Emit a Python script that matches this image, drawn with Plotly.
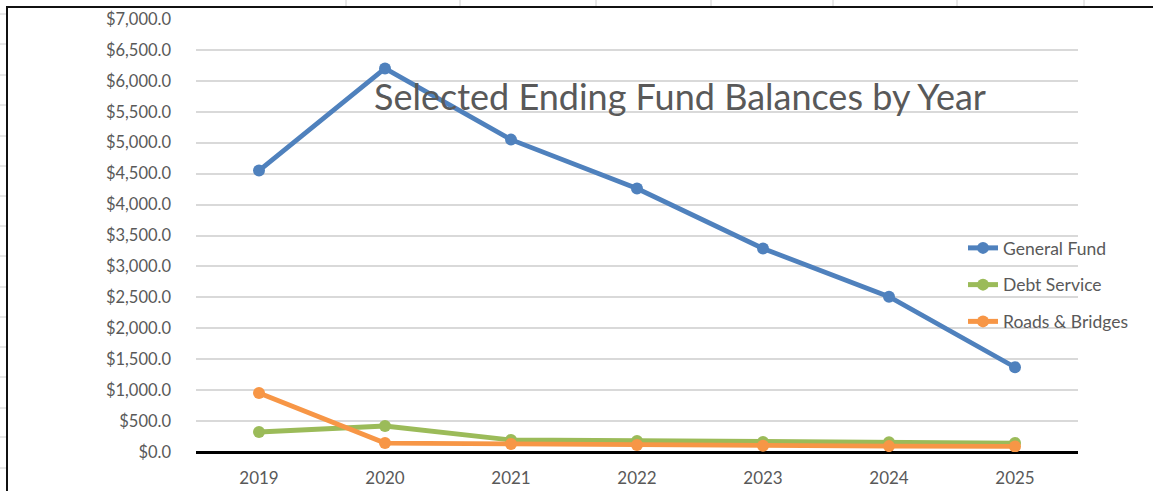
import plotly.graph_objects as go

years = ["2019", "2020", "2021", "2022", "2023", "2024", "2025"]
general_fund = [4550, 6200, 5050, 4260, 3290, 2510, 1370]
debt_service = [323, 420, 194, 178, 162, 158, 145]
roads_bridges = [954, 145, 130, 115, 100, 95, 90]

W, H = 1153, 491
FONT = "Lato"
GREY = "#595959"

def px_x(x):
    return x / W

def px_y(y):
    return (H - y) / H

fig = go.Figure()
series = [
    ("General Fund", general_fund, "#4F81BD"),
    ("Debt Service", debt_service, "#9BBB59"),
    ("Roads & Bridges", roads_bridges, "#F79646"),
]
for name, vals, col in series:
    fig.add_trace(go.Scatter(
        x=years, y=vals, name=name, mode="lines+markers", legendgroup=name,
        line=dict(color=col, width=4.8),
        marker=dict(color=col, size=12),
    ))

shapes = []
# spreadsheet gridlines around chart
for yy in [14, 44, 75, 105, 136, 166, 196, 226, 256, 287, 317, 347, 377, 408, 437, 468]:
    shapes.append(dict(type="line", xref="paper", yref="paper", x0=0, x1=px_x(6),
                       y0=px_y(yy), y1=px_y(yy), line=dict(color="#d0d0d0", width=1)))
for xx in [346, 460, 596, 711, 833, 957, 1084]:
    shapes.append(dict(type="line", xref="paper", yref="paper", x0=px_x(xx), x1=px_x(xx),
                       y0=px_y(0), y1=px_y(6), line=dict(color="#d0d0d0", width=1)))
# chart border
shapes.append(dict(type="line", xref="paper", yref="paper", x0=px_x(7), x1=px_x(7),
                   y0=px_y(6), y1=0, line=dict(color="#111111", width=2)))
shapes.append(dict(type="line", xref="paper", yref="paper", x0=px_x(6), x1=1,
                   y0=px_y(7), y1=px_y(7), line=dict(color="#111111", width=2)))

fig.update_layout(
    width=W, height=H,
    margin=dict(l=0, r=0, t=0, b=0),
    paper_bgcolor="white", plot_bgcolor="white",
    font=dict(family=FONT, color=GREY, size=16),
    title=dict(text="Selected Ending Fund Balances by Year", x=px_x(680), y=px_y(97),
               xanchor="center", yanchor="middle",
               font=dict(family=FONT, size=36, color=GREY)),
    xaxis=dict(domain=[px_x(196), px_x(1078)], type="category", range=[-0.5, 6.5],
               showgrid=False, showline=False, zeroline=False, ticks="",
               ticklabelstandoff=14,
               tickfont=dict(family=FONT, size=17, color=GREY), automargin=False),
    yaxis=dict(domain=[px_y(452), px_y(19)], range=[0, 7000], dtick=500,
               tickprefix="$", tickformat=",.1f",
               showgrid=True, gridcolor="#d9d9d9", gridwidth=2,
               zeroline=True, zerolinecolor="black", zerolinewidth=3,
               showline=False, ticks="", ticklabelstandoff=24,
               tickfont=dict(family=FONT, size=16.5, color=GREY), automargin=False),
    legend=dict(x=px_x(963), y=px_y(230), xanchor="left", yanchor="top",
                bgcolor="rgba(0,0,0,0)", font=dict(family=FONT, size=17.5, color=GREY),
                tracegroupgap=11, itemsizing="constant"),
    shapes=shapes,
    showlegend=True,
)

fig.write_html("out.html", config={"displayModeBar": False},
               post_script="document.body.style.margin='0';document.body.style.overflow='hidden';")
